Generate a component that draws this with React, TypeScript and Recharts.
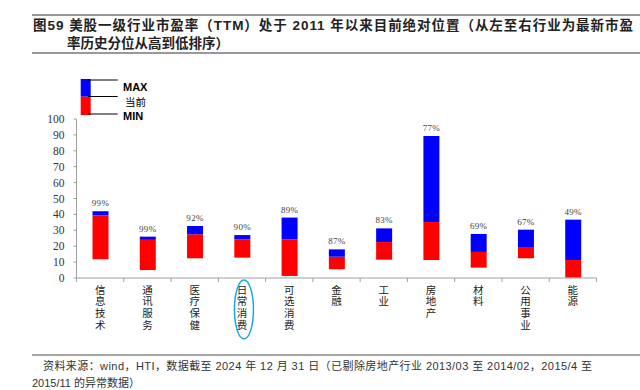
import React from 'react';
import { BarChart, Bar, XAxis, YAxis, LabelList } from 'recharts';

const categories = ['信息技术', '通讯服务', '医疗保健', '日常消费', '可选消费', '金融', '工业', '房地产', '材料', '公用事业', '能源'];
const maxVals = [42, 26, 32.7, 27, 38, 18, 31.2, 89.3, 27.7, 30.4, 36.7];
const curVals = [39.4, 24, 27.5, 24.3, 24.3, 13.4, 22.6, 35.2, 16.4, 19.5, 11.3];
const minVals = [11.8, 5, 12.4, 12.8, 1.3, 5.5, 11.5, 11.3, 6.5, 12.4, 0.2];
const pctLabels = ['99%', '99%', '92%', '90%', '89%', '87%', '83%', '77%', '69%', '67%', '49%'];
const yTicks = [0, 10, 20, 30, 40, 50, 60, 70, 80, 90, 100];
const highlighted = '日常消费';

const titleLine1 = '图59 美股一级行业市盈率（TTM）处于 2011 年以来目前绝对位置（从左至右行业为最新市盈';
const titleLine2 = '率历史分位从高到低排序）';
const noteLine1 = '资料来源：wind，HTI，数据截至 2024 年 12 月 31 日（已剔除房地产行业 2013/03 至 2014/02，2015/4 至';
const noteLine2 = '2015/11 的异常数据）';

const data = categories.map((name, i) => ({
  name,
  base: minVals[i],
  low: curVals[i] - minVals[i],
  high: maxVals[i] - curVals[i],
  pct: pctLabels[i],
}));

const W = 640;
const H = 390;
const PLOT_LEFT = 76.5;
const PLOT_RIGHT = 596.5;
const PLOT_TOP = 119;
const PLOT_BOTTOM = 278;
const YAXIS_W = 60;
const XAXIS_H = 70;
const BAND = (PLOT_RIGHT - PLOT_LEFT) / categories.length;

const CJK = "'Noto Sans CJK SC', sans-serif";
const SERIF = "'Liberation Serif', 'DejaVu Serif', serif";

const XTick = (props: any) => {
  const { x, y, payload, index } = props;
  const left = x - BAND / 2;
  return (
    <g>
      <line x1={left} y1={y} x2={left} y2={y + 4} stroke="#a0a0a0" strokeWidth={1} />
      {index === categories.length - 1 && (
        <line x1={x + BAND / 2} y1={y} x2={x + BAND / 2} y2={y + 4} stroke="#a0a0a0" strokeWidth={1} />
      )}
      <text
        x={x}
        y={y + 6.5}
        style={{ fontSize: 10.5, fontFamily: CJK, fill: '#222', writingMode: 'vertical-rl', letterSpacing: 1.2 } as any}
      >
        {payload.value}
      </text>
      {payload.value === highlighted && (
        <ellipse cx={x + 2} cy={y + 31.5} rx={9.5} ry={29.5} fill="none" stroke="#1aa8e2" strokeWidth={1.5} />
      )}
    </g>
  );
};

const YTick = (props: any) => {
  const { x, y, payload } = props;
  return (
    <text x={x} y={y} dy={4} textAnchor="end" style={{ fontSize: 11.5, fontFamily: SERIF, fill: '#333' }}>
      {payload.value}
    </text>
  );
};

const PctLabel = (props: any) => {
  const { x, y, width, value } = props;
  return (
    <text x={x + width / 2} y={y - 5} textAnchor="middle" style={{ fontSize: 9, fontFamily: SERIF, fill: '#444', letterSpacing: 0.3 }}>
      {value}
    </text>
  );
};

export default function App() {
  return (
    <div style={{ position: 'absolute', left: 0, top: 0, width: W, height: H, background: '#fff' }}>
      <BarChart
        width={W}
        height={H}
        data={data}
        barSize={16}
        margin={{ top: PLOT_TOP, right: W - PLOT_RIGHT, bottom: H - PLOT_BOTTOM - XAXIS_H, left: PLOT_LEFT - YAXIS_W }}
      >
        <XAxis
          dataKey="name"
          interval={0}
          height={XAXIS_H}
          tickLine={false}
          tickSize={0}
          tickMargin={0}
          axisLine={{ stroke: '#a0a0a0' }}
          tick={<XTick />}
        />
        <YAxis
          width={YAXIS_W}
          domain={[0, 100]}
          ticks={yTicks}
          interval={0}
          tickSize={3}
          tickMargin={9}
          axisLine={{ stroke: '#a0a0a0' }}
          tickLine={{ stroke: '#a0a0a0' }}
          tick={<YTick />}
        />
        <Bar dataKey="base" stackId="a" fill="transparent" isAnimationActive={false} />
        <Bar dataKey="low" stackId="a" fill="#ff0000" isAnimationActive={false} />
        <Bar dataKey="high" stackId="a" fill="#0000ff" isAnimationActive={false}>
          <LabelList dataKey="pct" content={<PctLabel />} />
        </Bar>
      </BarChart>
      <svg width={W} height={H} style={{ position: 'absolute', left: 0, top: 0, pointerEvents: 'none' }}>
        <line x1={32} y1={15} x2={640} y2={15} stroke="#333" strokeWidth={1} />
        <text x={33} y={30} textLength={600} lengthAdjust="spacing" style={{ fontSize: 13.5, fontWeight: 700, fontFamily: "'Liberation Sans', " + CJK, fill: '#222' }}>
          {titleLine1}
        </text>
        <text x={67} y={47.5} style={{ fontSize: 13.5, fontWeight: 700, fontFamily: "'Liberation Sans', " + CJK, fill: '#222' }}>
          {titleLine2}
        </text>
        <line x1={32} y1={53} x2={640} y2={53} stroke="#999" strokeWidth={2} />

        <rect x={80.7} y={79} width={10} height={17.7} fill="#0000ff" />
        <rect x={80.7} y={96.7} width={10} height={18.3} fill="#ff0000" />
        <line x1={88} y1={80} x2={117.7} y2={80} stroke="#000" strokeWidth={1} />
        <line x1={88} y1={96.5} x2={117.7} y2={96.5} stroke="#000" strokeWidth={1} />
        <line x1={88} y1={114} x2={117.7} y2={114} stroke="#000" strokeWidth={1} />
        <text x={123} y={91} style={{ fontSize: 11, fontWeight: 700, fontFamily: "'Liberation Sans', sans-serif", fill: '#000' }}>MAX</text>
        <text x={125} y={105.5} style={{ fontSize: 10.5, fontFamily: CJK, fill: '#000' }}>当前</text>
        <text x={123} y={120} style={{ fontSize: 11, fontWeight: 700, fontFamily: "'Liberation Sans', sans-serif", fill: '#000' }}>MIN</text>

        <line x1={32} y1={355} x2={640} y2={355} stroke="#888" strokeWidth={1.5} />
        <text x={43} y={369.5} textLength={549} lengthAdjust="spacing" style={{ fontSize: 11, fontFamily: "'Liberation Sans', " + CJK, fill: '#333' }}>
          {noteLine1}
        </text>
        <text x={32} y={387} style={{ fontSize: 11, fontFamily: "'Liberation Sans', " + CJK, fill: '#333' }}>
          {noteLine2}
        </text>
      </svg>
    </div>
  );
}
